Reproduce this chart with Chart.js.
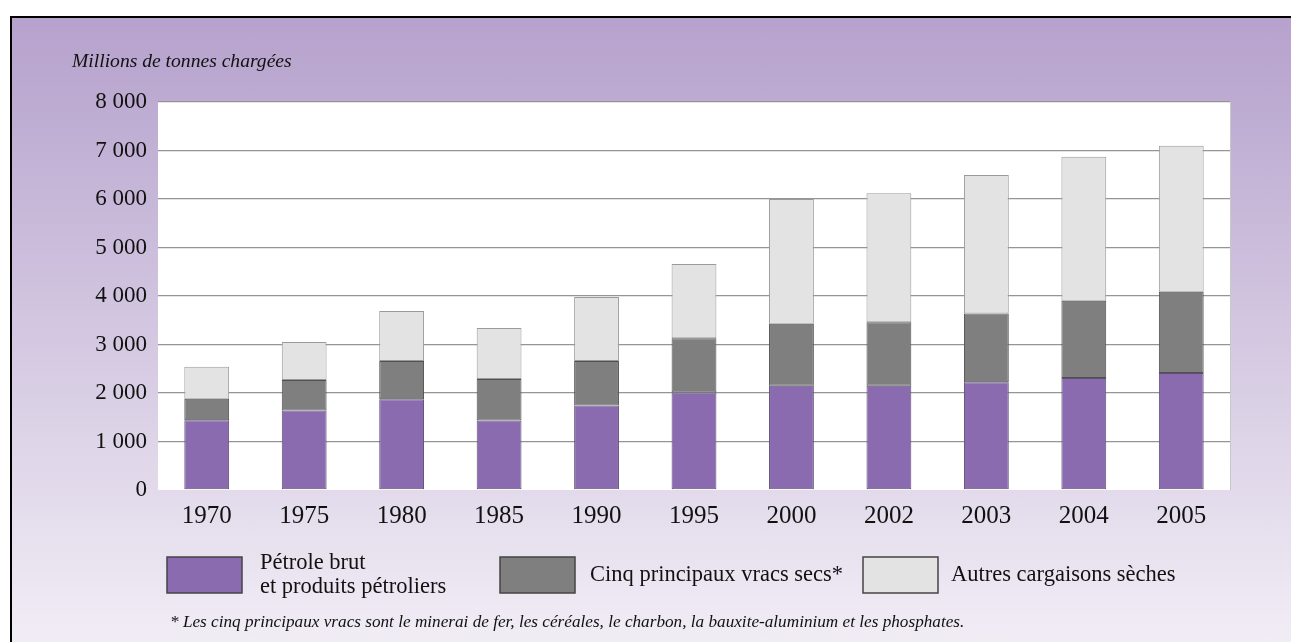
<!DOCTYPE html>
<html>
<head>
<meta charset="utf-8">
<script src="https://cdn.jsdelivr.net/npm/chart.js@4.4.0/dist/chart.umd.min.js"></script>
<style>
  html, body { margin: 0; padding: 0; background: #fff; }
  #frame {
    position: absolute; left: 10px; top: 16px; right: 0; bottom: 0;
    border-left: 2px solid #000; border-top: 2px solid #000;
    background: linear-gradient(to bottom, #b7a2cd 0%, #bcaad1 12%, #f1edf5 100%);
  }
  #wrap { position: absolute; left: 0; top: 0; width: 1291px; height: 642px; }
</style>
</head>
<body>
<div id="frame"></div>
<div id="wrap"><canvas id="myChart" width="1291" height="642"></canvas></div>
<script>
// Millions de tonnes chargées
var years = ['1970', '1975', '1980', '1985', '1990', '1995', '2000', '2002', '2003', '2004', '2005'];
var petrole = [1440, 1640, 1870, 1435, 1740, 2010, 2150, 2150, 2220, 2310, 2410];
var vracs = [440, 630, 790, 855, 920, 1120, 1280, 1310, 1420, 1590, 1680];
var autres = [660, 780, 1030, 1050, 1320, 1530, 2570, 2660, 2855, 2970, 3010];
var seriesNames = [['Pétrole brut', 'et produits pétroliers'], ['Cinq principaux vracs secs*'], ['Autres cargaisons sèches']];
var yTicks = [0, 1000, 2000, 3000, 4000, 5000, 6000, 7000, 8000];

var colors = ['#8a6bb0', '#7f7f7f', '#e3e3e3'];
var borders = ['#5f4f73', '#505050', '#9a9a9a'];

var plotBg = {
    id: 'plotBg',
    beforeDraw: function(chart) {
        var a = chart.chartArea, ctx = chart.ctx;
        ctx.save();
        ctx.fillStyle = '#fff';
        ctx.fillRect(a.left, a.top, a.right - a.left, a.bottom - a.top);
        ctx.strokeStyle = '#c8c8c8';
        ctx.lineWidth = 1;
        ctx.beginPath();
        ctx.moveTo(a.right + 0.5, a.top);
        ctx.lineTo(a.right + 0.5, a.bottom);
        ctx.stroke();
        ctx.restore();
    }
};

var extras = {
    id: 'extras',
    afterDraw: function(chart) {
        var ctx = chart.ctx;
        ctx.save();
        ctx.fillStyle = '#111';
        ctx.textBaseline = 'alphabetic';
        ctx.font = 'italic 19.6px "Liberation Serif"';
        ctx.fillText('Millions de tonnes chargées', 72, 67);

        // legend
        var boxX = [167, 500, 863];
        var textX = [260, 590, 951];
        for (var i = 0; i < 3; i++) {
            ctx.fillStyle = colors[i];
            ctx.fillRect(boxX[i], 557, 75, 36);
            ctx.strokeStyle = '#444';
            ctx.lineWidth = 1.5;
            ctx.strokeRect(boxX[i], 557, 75, 36);
            ctx.fillStyle = '#111';
            ctx.font = '22.5px "Liberation Serif"';
            ctx.textBaseline = 'middle';
            var lines = seriesNames[i];
            for (var j = 0; j < lines.length; j++) {
                var y = 575 + (j - (lines.length - 1) / 2) * 24;
                ctx.fillText(lines[j], textX[i], y);
            }
        }
        ctx.textBaseline = 'alphabetic';
        ctx.font = 'italic 17.2px "Liberation Serif"';
        ctx.fillText('* Les cinq principaux vracs sont le minerai de fer, les céréales, le charbon, la bauxite-aluminium et les phosphates.', 170, 627);
        ctx.restore();
    }
};

function ds(label, data, i) {
    return {
        label: label,
        data: data,
        backgroundColor: colors[i],
        borderColor: borders[i],
        borderWidth: 1,
        borderSkipped: false,
        categoryPercentage: 1,
        barPercentage: 0.46
    };
}

var myChart = new Chart(document.getElementById('myChart'), {
    type: 'bar',
    data: {
        labels: years,
        datasets: [
            ds(seriesNames[0].join(' '), petrole, 0),
            ds(seriesNames[1][0], vracs, 1),
            ds(seriesNames[2][0], autres, 2)
        ]
    },
    options: {
        responsive: false,
        animation: false,
        layout: { padding: { left: 0, top: 102, right: 61, bottom: 0 } },
        plugins: { legend: { display: false }, tooltip: { enabled: false } },
        scales: {
            x: {
                stacked: true,
                grid: { display: false },
                border: { display: false },
                ticks: { color: '#111', font: { family: 'Liberation Serif', size: 25 }, padding: 3 },
                afterFit: function(s) { s.height = 152; }
            },
            y: {
                stacked: true,
                min: 0, max: 8000,
                afterBuildTicks: function(s) { s.ticks = yTicks.map(function(v) { return { value: v }; }); },
                grid: {
                    color: function(c) { return c.tick.value === 0 ? 'rgba(0,0,0,0)' : '#959595'; },
                    lineWidth: 1.3,
                    drawTicks: false
                },
                border: { display: false },
                ticks: {
                    color: '#111',
                    padding: 11,
                    font: { family: 'Liberation Serif', size: 23 },
                    callback: function(v) { return v === 0 ? '0' : (v / 1000) + ' 000'; }
                },
                afterFit: function(s) { s.width = 158; }
            }
        }
    },
    plugins: [plotBg, extras]
});
</script>
</body>
</html>
